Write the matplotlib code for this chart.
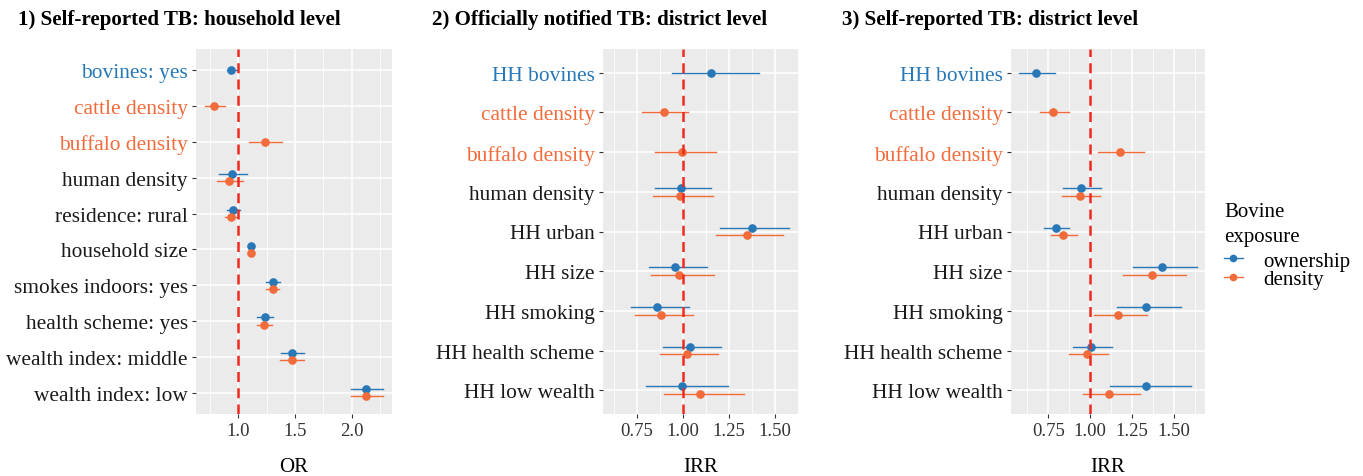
import numpy as np
import matplotlib
matplotlib.use('Agg')
import matplotlib.pyplot as plt
from matplotlib.lines import Line2D

plt.rcParams['font.family'] = 'Liberation Serif'

# colours
blue = '#2878b8'
orange = '#f26b3a'

# ---- panel 1: self-reported TB, household level (OR)
labels1 = ['bovines: yes', 'cattle density', 'buffalo density', 'human density',
           'residence: rural', 'household size', 'smokes indoors: yes',
           'health scheme: yes', 'wealth index: middle', 'wealth index: low']
own1 = [0.938, np.nan, np.nan, 0.944, 0.950, 1.109, 1.307, 1.236, 1.478, 2.127]
own1_lo = [0.897, np.nan, np.nan, 0.829, 0.897, 1.090, 1.248, 1.168, 1.375, 1.991]
own1_hi = [0.985, np.nan, np.nan, 1.077, 1.015, 1.128, 1.366, 1.304, 1.584, 2.274]
den1 = [np.nan, 0.788, 1.236, 0.917, 0.932, 1.109, 1.304, 1.230, 1.475, 2.127]
den1_lo = [np.nan, 0.705, 1.097, 0.808, 0.879, 1.092, 1.245, 1.162, 1.369, 1.991]
den1_hi = [np.nan, 0.879, 1.389, 1.038, 0.985, 1.126, 1.363, 1.298, 1.581, 2.277]

# ---- panel 2: officially notified TB, district level (IRR)
labels2 = ['HH bovines', 'cattle density', 'buffalo density', 'human density',
           'HH urban', 'HH size', 'HH smoking', 'HH health scheme', 'HH low wealth']
own2 = [1.152, np.nan, np.nan, 0.986, 1.373, 0.955, 0.859, 1.036, 0.993]
own2_lo = [0.942, np.nan, np.nan, 0.846, 1.199, 0.812, 0.716, 0.891, 0.797]
own2_hi = [1.413, np.nan, np.nan, 1.152, 1.574, 1.129, 1.031, 1.205, 1.243]
den2 = [np.nan, 0.895, 0.996, 0.984, 1.346, 0.980, 0.882, 1.020, 1.091]
den2_lo = [np.nan, 0.779, 0.846, 0.837, 1.179, 0.828, 0.739, 0.875, 0.897]
den2_hi = [np.nan, 1.029, 1.178, 1.163, 1.540, 1.165, 1.056, 1.190, 1.332]

# ---- panel 3: self-reported TB, district level (IRR)
labels3 = labels2
own3 = [0.675, np.nan, np.nan, 0.944, 0.796, 1.429, 1.333, 1.004, 1.333]
own3_lo = [0.577, np.nan, np.nan, 0.835, 0.722, 1.252, 1.161, 0.895, 1.117]
own3_hi = [0.788, np.nan, np.nan, 1.065, 0.875, 1.635, 1.540, 1.131, 1.599]
den3 = [np.nan, 0.780, 1.175, 0.940, 0.837, 1.371, 1.167, 0.980, 1.111]
den3_lo = [np.nan, 0.702, 1.046, 0.831, 0.764, 1.198, 1.020, 0.871, 0.956]
den3_hi = [np.nan, 0.871, 1.321, 1.060, 0.923, 1.569, 1.339, 1.105, 1.298]

titles = ['1) Self-reported TB: household level',
          '2) Officially notified TB: district level',
          '3) Self-reported TB: district level']
xlabels = ['OR', 'IRR', 'IRR']
label_colors = [blue, orange, orange]

W, H = 1363, 477
fig = plt.figure(figsize=(W / 100, H / 100), dpi=100)


def px_axes(x0, x1, y0, y1):
    return fig.add_axes([x0 / W, 1 - y1 / H, (x1 - x0) / W, (y1 - y0) / H])


def panel(ax, labels, own, own_lo, own_hi, den, den_lo, den_hi,
          xlim, major, minor, ticklabels, xlabel):
    n = len(labels)
    ax.set_facecolor('#ebebeb')
    for s in ax.spines.values():
        s.set_visible(False)
    ys = np.arange(n, 0, -1).astype(float)
    for i in range(n):
        both = not (np.isnan(own[i]) or np.isnan(den[i]))
        d = 0.1 if both else 0.0
        if not np.isnan(own[i]):
            ax.plot([own_lo[i], own_hi[i]], [ys[i] + d] * 2, color=blue, lw=1.0, zorder=3)
            ax.plot(own[i], ys[i] + d, 'o', color=blue, ms=5.2, zorder=4)
        if not np.isnan(den[i]):
            ax.plot([den_lo[i], den_hi[i]], [ys[i] - d] * 2, color=orange, lw=1.0, zorder=3)
            ax.plot(den[i], ys[i] - d, 'o', color=orange, ms=5.2, zorder=4)
    ax.axvline(1.0, color='#ee2a1e', ls=(0, (4, 2.5)), lw=1.8, zorder=5)
    ax.set_xlim(*xlim)
    ax.set_ylim(0.4, n + 0.6)
    ax.set_xticks(major)
    ax.set_xticklabels(ticklabels, fontsize=13.5, color='#333333')
    ax.set_xticks(minor, minor=True)
    ax.set_yticks(ys)
    ax.set_yticklabels(labels, fontsize=15.4)
    for i, t in enumerate(ax.get_yticklabels()):
        if i < 3:
            t.set_color(label_colors[i])
        else:
            t.set_color('#1a1a1a')
    ax.grid(which='major', color='white', lw=1.1)
    ax.grid(which='minor', axis='x', color='white', lw=0.55)
    ax.set_axisbelow(True)
    ax.tick_params(which='major', length=3, width=0.8, color='#333333', pad=3)
    ax.tick_params(which='minor', length=0)
    ax.set_xlabel(xlabel, fontsize=15, labelpad=13)


ax1 = px_axes(196, 392, 50, 415)
panel(ax1, labels1, own1, own1_lo, own1_hi, den1, den1_lo, den1_hi,
      (0.626, 2.357), [1.0, 1.5, 2.0], [0.75, 1.25, 1.75, 2.25],
      ['1.0', '1.5', '2.0'], xlabels[0])

ax2 = px_axes(603, 799, 50, 415)
panel(ax2, labels2, own2, own2_lo, own2_hi, den2, den2_lo, den2_hi,
      (0.565, 1.629), [0.75, 1.0, 1.25, 1.5], [0.625, 0.875, 1.125, 1.375, 1.625],
      ['0.75', '1.00', '1.25', '1.50'], xlabels[1])

ax3 = px_axes(1011, 1205, 50, 415)
panel(ax3, labels3, own3, own3_lo, own3_hi, den3, den3_lo, den3_hi,
      (0.528, 1.684), [0.75, 1.0, 1.25, 1.5], [0.625, 0.875, 1.125, 1.375, 1.625],
      ['0.75', '1.00', '1.25', '1.50'], xlabels[2])

for x, t in zip([18, 432, 842], titles):
    fig.text(x / W, 1 - 20 / H, t, fontsize=15.1, fontweight='bold', va='center', ha='left')

# legend: title as text, entries as a frameless legend
fig.text(1224 / W, 1 - 225 / H, 'Bovine\nexposure', fontsize=15, va='center',
         ha='left', linespacing=1.45)
handles = [Line2D([0], [0], color=blue, marker='o', ms=4.5, lw=1.0),
           Line2D([0], [0], color=orange, marker='o', ms=4.5, lw=1.0)]
leg = fig.legend(handles, ['ownership', 'density'],
                 loc='upper left', bbox_to_anchor=(1224 / W, 1 - 252 / H),
                 frameon=False, fontsize=15, handlelength=0.9,
                 handletextpad=1.0, labelspacing=-0.05,
                 borderaxespad=0, borderpad=0)

fig.savefig('out.png', dpi=100)
